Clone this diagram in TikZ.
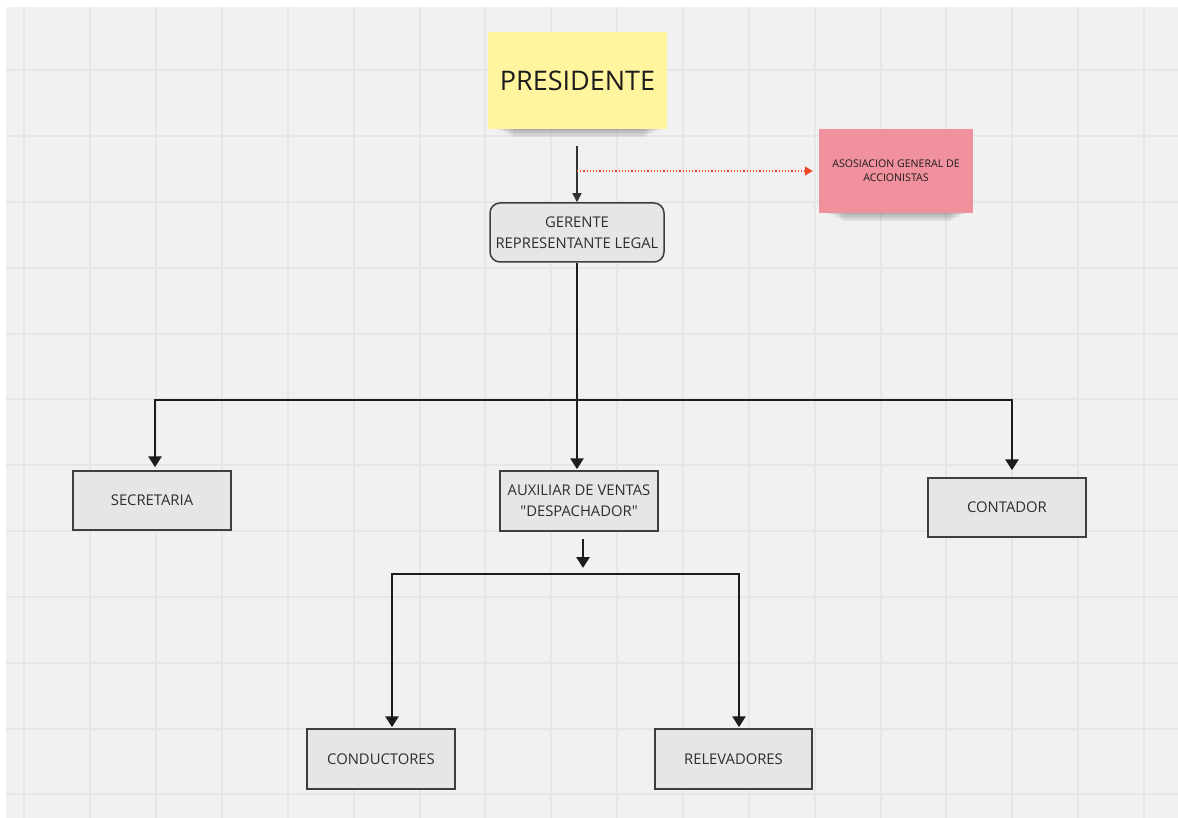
\documentclass[tikz,border=0pt]{standalone}
\usepackage{fontspec}
\setmainfont{Open Sans}
\newfontfamily\nomap{Open Sans}[Ligatures=ResetAll]
\usetikzlibrary{arrows.meta}
\definecolor{bgc}{HTML}{F1F1F1}
\definecolor{gridc}{HTML}{E6E6E6}
\definecolor{boxc}{HTML}{E6E6E6}
\definecolor{linec}{HTML}{1C1C1C}
\definecolor{txtc}{HTML}{2E2E2E}
\definecolor{yel}{HTML}{FFF59E}
\definecolor{pinkc}{HTML}{F0919D}
\definecolor{redc}{HTML}{F24726}
\tikzset{
  orgbox/.style={draw=linec!85, line width=1.5pt, fill=boxc, text=txtc, align=center, inner sep=0pt,
    font=\fontsize{14.8}{21}\selectfont},
  sticky/.style={inner sep=0pt, align=center, text=txtc!60!black},
  conn/.style={draw=linec, line width=2.8pt, -{Triangle[width=13pt,length=11pt]}},
  plainline/.style={draw=linec, line width=2.8pt},
  thinconn/.style={draw=linec!90, line width=1.5pt, -{Triangle[width=9pt,length=9pt]}},
  redconn/.style={draw=redc, line width=1.2pt, dotted, -{Triangle[width=9pt,length=8pt]}}
}
\begin{document}
\begin{tikzpicture}[x=1pt,y=-1pt]
\useasboundingbox (0,0) rectangle (1178,818);
\fill[white] (0,0) rectangle (1178,818);
\fill[bgc] (6,7) rectangle (1178,818);
% grid
\begin{scope}
\clip (6,7) rectangle (1178,818);
\foreach \i in {0,...,17} {\draw[gridc, line width=2pt] (24.3+65.87*\i,7) -- (24.3+65.87*\i,818);}
\foreach \j in {0,...,11} {\draw[gridc, line width=2pt] (6,70.2+65.83*\j) -- (1178,70.2+65.83*\j);}
\end{scope}
% shadows of stickies
\foreach \k in {0,...,5} {
  \fill[black, opacity=0.05] (498+\k*3,124) rectangle (660-\k*3,130+\k*1.4);
  \fill[black, opacity=0.05] (828+\k*3,208) rectangle (966-\k*3,214+\k*1.4);
}
% nodes
\node[sticky, fill=yel, minimum width=179pt, minimum height=97pt, font=\fontsize{27}{30}\selectfont]
  (pres) at (577.5,80.5) {PRESIDENTE};
\node[sticky, fill=pinkc, minimum width=154pt, minimum height=84pt, font=\fontsize{10.6}{14}\selectfont]
  (asoc) at (896,171) {ASOSIACION GENERAL DE\\ACCIONISTAS};
\node[orgbox, rounded corners=10pt, minimum width=174pt, minimum height=59pt]
  (ger) at (577,232.5) {GERENTE\\REPRESENTANTE LEGAL};
\node[orgbox, minimum width=158pt, minimum height=59pt] (sec) at (152,500.5) {SECRETARIA};
\node[orgbox, minimum width=158pt, minimum height=60pt] (aux) at (579,501) {AUXILIAR DE VENTAS\\{\nomap"DESPACHADOR"}};
\node[orgbox, minimum width=158pt, minimum height=59pt] (cont) at (1007,507.5) {CONTADOR};
\node[orgbox, minimum width=148pt, minimum height=60pt] (cond) at (381,759) {CONDUCTORES};
\node[orgbox, minimum width=157pt, minimum height=60pt] (rel) at (733.5,759) {RELEVADORES};
% coordinates
\coordinate (ptop) at (577,146);
\coordinate (rstart) at (577,171);
\coordinate (hub) at (577,400);
\coordinate (auxa) at (583,539);
\coordinate (auxb) at (583,568);
\coordinate (bl) at (392,574);
\coordinate (br) at (739,574);
% connectors
\draw[thinconn] (ptop) -- (ger.north);
\draw[redconn, shorten >=6pt] (rstart) -- (asoc.west);
\draw[plainline] (ger.south) -- (hub);
\draw[conn, shorten >=3pt] (hub) -| ([xshift=3pt]sec.north);
\draw[conn, shorten >=1pt] (hub) -- (hub |- aux.north);
\draw[conn, shorten >=7pt] (hub) -| ([xshift=5pt]cont.north);
\draw[conn] (auxa) -- (auxb);
\draw[conn, shorten >=1pt] (br) -- (bl) -- ([xshift=11pt]cond.north);
\draw[conn, shorten >=1pt] (bl) -- (br) -- ([xshift=5.5pt]rel.north);
\end{tikzpicture}
\end{document}
